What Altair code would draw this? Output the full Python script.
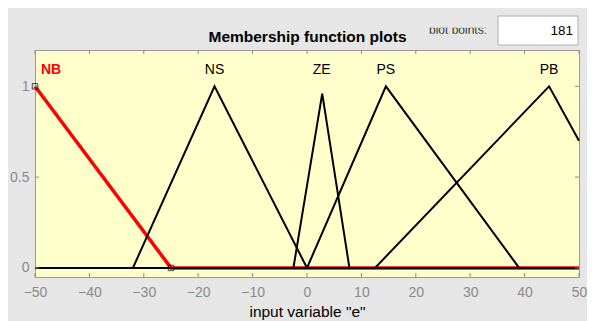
import altair as alt
import pandas as pd

# ---- data ----
mf_names = ["NB", "NS", "ZE", "PS", "PB"]
nb_x = [-50, -25, 50]
nb_y = [1, 0, 0]
ns_x = [-50, -32, -17, 0, 50]
ns_y = [0, 0, 1, 0, 0]
ze_x = [-50, -2.5, 2.8, 7.8, 50]
ze_y = [0, 0, 0.96, 0, 0]
ps_x = [-50, 0, 14.5, 39, 50]
ps_y = [0, 0, 1, 0, 0]
pb_x = [-50, 12.5, 44.5, 50]
pb_y = [0, 0, 1, 0.70]
label_x = [-50, -17, 2.7, 14.5, 44.5]
label_y = [1.09, 1.09, 1.09, 1.09, 1.09]
marker_x = [-50, -25]
marker_y = [1, 0]
x_ticks = [-50, -40, -30, -20, -10, 0, 10, 20, 30, 40, 50]
y_ticks = [0, 0.5, 1]
plot_points = "181"
title_text = "Membership function plots"
x_title = 'input variable "e"'

FONT = "Liberation Sans"
BG = "#e6e6e6"
W, H = 544, 227

curves = {"NB": (nb_x, nb_y), "NS": (ns_x, ns_y), "ZE": (ze_x, ze_y),
          "PS": (ps_x, ps_y), "PB": (pb_x, pb_y)}
rows = []
for name in mf_names:
    xs_, ys_ = curves[name]
    for i, (a, b) in enumerate(zip(xs_, ys_)):
        rows.append({"mf": name, "x": a, "y": b, "o": i})
lines = pd.DataFrame(rows)
labels = pd.DataFrame({"mf": mf_names, "x": label_x, "y": label_y})
markers = pd.DataFrame({"x": marker_x, "y": marker_y})
xt = pd.DataFrame({"x": x_ticks})
yt = pd.DataFrame({"y": y_ticks})

xscale = alt.Scale(domain=[-50, 50], nice=False, zero=False)
yscale = alt.Scale(domain=[-0.05, 1.2], nice=False, zero=False)
xaxis = alt.Axis(values=x_ticks, ticks=False, domain=False, grid=False,
                 labelColor="#8a8a8a", labelFontSize=14, labelFont=FONT,
                 labelFlush=False, labelOverlap=False,
                 labelPadding=8, title=None)
yaxis = alt.Axis(values=y_ticks, ticks=False, domain=False, grid=False,
                 labelColor="#8a8a8a", labelFontSize=14, labelFont=FONT,
                 labelFlush=False, labelOverlap=False,
                 labelPadding=6, format="~g", title=None)
X = alt.X("x:Q", scale=xscale, axis=xaxis)
Y = alt.Y("y:Q", scale=yscale, axis=yaxis)

red = alt.Chart(lines[lines.mf == "NB"]).mark_line(
    color="#ff0000", strokeWidth=3.5).encode(x=X, y=Y, order="o:Q")
black = alt.Chart(lines[lines.mf != "NB"]).mark_line(
    color="black", strokeWidth=2).encode(x=X, y=Y, detail="mf:N", order="o:Q")
marks = alt.Chart(markers).mark_point(
    shape="square", filled=False, color="black", size=30, strokeWidth=1
).encode(x=X, y=Y)
nb_lab = alt.Chart(labels[labels.mf == "NB"]).mark_text(
    align="left", baseline="middle", dx=6, font=FONT, fontSize=14,
    fontWeight="bold", color="#ff0000").encode(x=X, y=Y, text="mf:N")
other_lab = alt.Chart(labels[labels.mf != "NB"]).mark_text(
    align="center", baseline="middle", font=FONT, fontSize=14,
    color="black").encode(x=X, y=Y, text="mf:N")

tick_col = "#8a8a8a"
top_ticks = alt.Chart(xt).mark_rule(color=tick_col).encode(
    x=X, y=alt.value(0), y2=alt.value(4))
bot_ticks = alt.Chart(xt).mark_rule(color=tick_col).encode(
    x=X, y=alt.value(H - 4), y2=alt.value(H))
left_ticks = alt.Chart(yt).mark_rule(color=tick_col).encode(
    y=Y, x=alt.value(0), x2=alt.value(4))
right_ticks = alt.Chart(yt).mark_rule(color=tick_col).encode(
    y=Y, x=alt.value(W - 4), x2=alt.value(W))

title = alt.Chart(pd.DataFrame({"v": [title_text]})).mark_text(
    align="center", baseline="alphabetic", font=FONT, fontSize=15.5,
    fontWeight="bold", color="black").encode(
    x=alt.value(W / 2 + 0.5), y=alt.value(-8.3), text="v:N")
xtitle = alt.Chart(pd.DataFrame({"v": [x_title]})).mark_text(
    align="center", baseline="alphabetic", font=FONT, fontSize=15.5,
    color="black").encode(
    x=alt.value(W / 2 + 0.5), y=alt.value(H + 40), text="v:N")

# "plot points" box (GUI element above the plot)
box = alt.Chart(pd.DataFrame({"v": [plot_points]})).mark_rect(
    fill="white", stroke="#b0b0b0", strokeWidth=1).encode(
    x=alt.value(463), x2=alt.value(543), y=alt.value(-34), y2=alt.value(-5))
box_txt = alt.Chart(pd.DataFrame({"v": [plot_points]})).mark_text(
    align="right", baseline="middle", font=FONT, fontSize=13.5, color="black"
).encode(x=alt.value(538), y=alt.value(-19), text="v:N")
pp_txt = alt.Chart(pd.DataFrame({"v": ["plot points:"]})).mark_text(
    align="center", baseline="alphabetic", font=FONT, fontSize=12, color="#333333"
).encode(x=alt.value(423), y=alt.value(-16.5), text="v:N")
pp_cover_bot = alt.Chart(pd.DataFrame({"v": ["a"]})).mark_rect(fill=BG).encode(
    x=alt.value(388), x2=alt.value(460), y=alt.value(-16.3), y2=alt.value(-8))
pp_cover_top = alt.Chart(pd.DataFrame({"v": ["a"]})).mark_rect(fill=BG).encode(
    x=alt.value(388), x2=alt.value(460), y=alt.value(-42), y2=alt.value(-22.3))

chart = alt.layer(
    red, black, marks, nb_lab, other_lab,
    top_ticks, bot_ticks, left_ticks, right_ticks,
    title, xtitle, box, box_txt, pp_txt, pp_cover_bot, pp_cover_top,
).properties(
    width=W, height=H,
    background=BG,
    padding={"left": 27, "top": 42, "right": 8, "bottom": 44},
    autosize=alt.AutoSizeParams(type="none"),
).configure_view(
    fill="#ffffcc", stroke="#9a9a9a", strokeWidth=1
)

chart.save("out.html", embed_options={"renderer": "svg", "actions": False})
